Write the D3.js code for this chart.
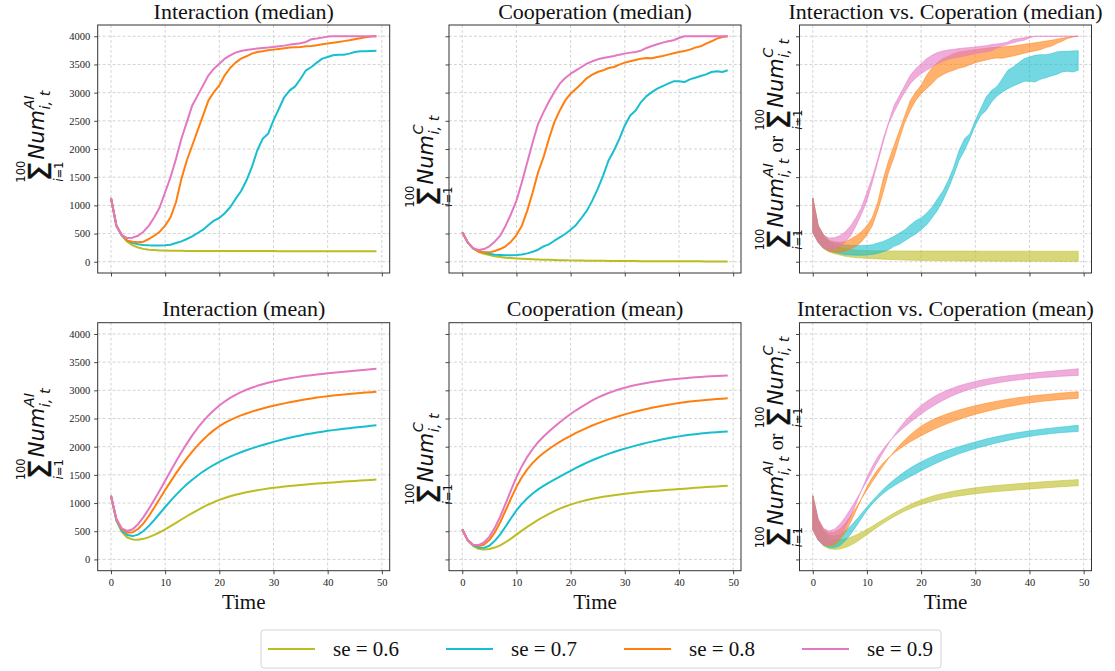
<!DOCTYPE html>
<html><head><meta charset="utf-8">
<script src="https://cdn.jsdelivr.net/npm/d3@7"></script>
<style>body{margin:0;background:#fff}svg{display:block}</style>
</head><body>
<svg id="chart" width="1115" height="671"></svg>
<script>
// ---------- data ----------
const timeSteps = [0,1,2,3,4,5,6,7,8,9,10,11,12,13,14,15,16,17,18,19,20,21,22,23,24,25,26,27,28,29,30,31,32,33,34,35,36,37,38,39,40,41,42,43,44,45,46,47,48,49];
const seLabels = ["se = 0.6","se = 0.7","se = 0.8","se = 0.9"];
const seColors = ["#bcbd22","#17becf","#ff7f0e","#e377c2"];
const yTickValues = [0,500,1000,1500,2000,2500,3000,3500,4000];
const xTickValues = [0,10,20,30,40,50];

// Interaction (median)
const interMedian06 = [1130,640,462,355,290,252,228,214,206,200,197,195,194,193,192,192,191,191,191,190,190,190,190,190,189,189,189,189,189,189,189,188,188,188,188,188,188,188,188,188,187,187,187,187,187,187,187,187,187,187];
const interMedian07 = [1130,640,470,375,330,310,298,292,290,290,292,302,332,361,403,450,510,569,652,729,776,860,966,1114,1250,1440,1677,1973,2181,2270,2507,2714,2922,3040,3111,3247,3396,3455,3532,3603,3633,3662,3674,3674,3692,3722,3733,3733,3740,3745];
const interMedian08 = [1130,640,480,373,355,344,355,403,462,533,640,788,1055,1470,1796,2062,2329,2596,2862,3010,3129,3307,3437,3532,3603,3645,3692,3722,3733,3751,3763,3775,3787,3799,3804,3810,3822,3828,3840,3858,3870,3885,3899,3914,3929,3947,3965,3982,3994,4000];
const interMedian09 = [1130,640,470,420,427,462,533,640,788,966,1233,1500,1825,2181,2477,2773,2951,3129,3307,3425,3514,3603,3662,3710,3740,3757,3769,3781,3793,3800,3810,3822,3834,3852,3864,3876,3899,3947,3959,3976,3994,4000,4000,4000,4000,4000,4000,4000,4000,4000];

// Cooperation (median)
const coopMedian06 = [521,344,237,178,142,119,95,83,71,65,59,55,50,46,41,36,33,30,27,25,24,22,20,19,18,17,16,15,14,13,12,11,11,10,10,9,9,9,8,8,8,7,7,7,7,6,6,6,6,6];
const coopMedian07 = [521,344,237,196,166,142,124,119,113,113,119,130,148,178,213,273,308,373,433,492,569,652,776,907,1084,1292,1529,1796,1973,2181,2418,2596,2684,2833,2939,3010,3070,3117,3159,3200,3200,3188,3236,3265,3295,3324,3366,3378,3366,3396];
const coopMedian08 = [521,344,237,178,166,166,190,225,273,356,474,640,907,1233,1588,1855,2181,2477,2684,2862,2981,3070,3159,3259,3319,3366,3396,3437,3455,3496,3532,3556,3579,3603,3615,3609,3633,3650,3674,3698,3722,3739,3763,3799,3822,3870,3911,3959,3988,4000];
const coopMedian09 = [521,344,240,207,225,273,356,462,640,847,1084,1410,1766,2121,2447,2655,2844,3010,3159,3259,3336,3396,3455,3514,3556,3591,3615,3633,3650,3674,3692,3710,3722,3745,3793,3828,3858,3887,3911,3929,3970,4000,4000,4000,4000,4000,4000,4000,4000,4000];

// Interaction (mean)
const interMean06 = [1130,690,490,390,355,350,365,395,435,482,533,590,649,708,766,822,876,927,975,1018,1056,1090,1120,1147,1171,1192,1211,1228,1243,1257,1270,1282,1293,1303,1312,1321,1329,1337,1345,1353,1360,1367,1374,1381,1387,1393,1399,1405,1411,1417];
const interMean07 = [1130,700,510,432,414,440,505,595,700,815,930,1040,1145,1243,1333,1415,1490,1559,1622,1679,1731,1779,1823,1864,1902,1937,1970,2001,2030,2058,2085,2111,2135,2158,2180,2200,2219,2236,2252,2267,2281,2294,2306,2318,2329,2340,2350,2360,2370,2379];
const interMean08 = [1130,710,535,475,480,540,640,770,920,1075,1231,1381,1526,1664,1794,1914,2024,2124,2214,2294,2364,2422,2472,2516,2555,2590,2622,2651,2678,2703,2726,2748,2769,2789,2808,2826,2842,2857,2871,2884,2896,2907,2917,2926,2935,2944,2952,2960,2968,2976];
const interMean09 = [1130,720,550,505,535,625,750,900,1060,1225,1395,1567,1737,1900,2055,2200,2332,2450,2555,2648,2730,2802,2865,2920,2968,3010,3047,3080,3109,3135,3158,3179,3198,3215,3230,3244,3257,3269,3280,3291,3302,3311,3320,3329,3338,3347,3356,3365,3374,3383];

// Cooperation (mean)
const coopMean06 = [530,340,240,189,178,185,210,250,305,370,440,510,577,640,700,757,810,858,901,939,973,1003,1030,1054,1075,1094,1111,1126,1140,1153,1165,1176,1186,1195,1204,1212,1220,1228,1235,1242,1249,1256,1263,1270,1277,1284,1290,1296,1302,1308];
const coopMean07 = [530,343,250,213,205,243,330,445,585,730,870,985,1085,1170,1243,1306,1364,1418,1470,1521,1573,1623,1671,1717,1760,1800,1838,1873,1906,1937,1966,1993,2019,2044,2068,2090,2111,2131,2150,2167,2183,2197,2210,2222,2233,2243,2251,2258,2264,2269];
const coopMean08 = [530,345,258,237,262,343,478,658,868,1083,1288,1458,1598,1713,1808,1888,1960,2026,2086,2142,2194,2244,2291,2335,2376,2414,2450,2484,2516,2546,2574,2600,2624,2647,2669,2690,2709,2727,2744,2760,2775,2788,2800,2811,2821,2830,2838,2845,2852,2858];
const coopMean09 = [530,345,262,255,300,400,560,760,990,1230,1460,1655,1820,1960,2080,2180,2270,2355,2435,2510,2580,2646,2708,2766,2820,2870,2913,2952,2987,3018,3046,3071,3093,3113,3131,3147,3161,3174,3186,3197,3207,3216,3224,3231,3238,3244,3250,3255,3260,3265];

const interMedian = [interMedian06, interMedian07, interMedian08, interMedian09];
const coopMedian = [coopMedian06, coopMedian07, coopMedian08, coopMedian09];
const interMean = [interMean06, interMean07, interMean08, interMean09];
const coopMean = [coopMean06, coopMean07, coopMean08, coopMean09];

// ---------- layout ----------
const svg = d3.select("#chart");
const SERIF = "'Liberation Serif','Times New Roman',serif";
const MATH = "'DejaVu Sans',sans-serif";
const colLeft = [97.7, 449, 799.5];
const rowTop = [25, 322.7];
const PW = 292, PH = 248;

const panels = [
  {r:0,c:0,title:"Interaction (median)", kind:"line", a:interMedian, label:"AI"},
  {r:0,c:1,title:"Cooperation (median)", kind:"line", a:coopMedian, label:"C"},
  {r:0,c:2,title:"Interaction vs. Coperation (median)", kind:"band", a:interMedian, b:coopMedian, label:"both"},
  {r:1,c:0,title:"Interaction (mean)", kind:"line", a:interMean, label:"AI"},
  {r:1,c:1,title:"Cooperation (mean)", kind:"line", a:coopMean, label:"C"},
  {r:1,c:2,title:"Interaction vs. Coperation (mean)", kind:"band", a:interMean, b:coopMean, label:"both"}
];

function mathLabel(parent, segs, bx, cy) {
  const outer = parent.append("g");
  const g = outer.append("g").attr("fill", "#111");
  let x = 0;
  segs.forEach(s => {
    if (s.word) {
      x += 6;
      const t = g.append("text").attr("x", x).attr("y", 0)
        .attr("font-family", SERIF).attr("font-size", 20).text(s.word);
      x += t.node().getComputedTextLength() + 6;
    } else {
      const sig = g.append("text").attr("x", x).attr("y", 6.5)
        .attr("font-family", MATH).attr("font-size", 32).attr("stroke", "#111").attr("stroke-width", 0.4)
        .text("\u03A3");
      const sw = sig.node().getComputedTextLength();
      const mid = x + sw / 2;
      g.append("text").attr("x", mid).attr("y", -19.5).attr("text-anchor", "middle")
        .attr("font-family", MATH).attr("font-size", 11.5).text("100");
      const lo = g.append("text").attr("x", mid).attr("y", 18.5).attr("text-anchor", "middle")
        .attr("font-family", MATH).attr("font-size", 11.5);
      lo.append("tspan").attr("font-style", "italic").text("i");
      lo.append("tspan").text("=1");
      x += sw + 2;
      const n = g.append("text").attr("x", x).attr("y", 0).attr("font-family", MATH)
        .attr("font-style", "italic").attr("font-size", 21).text("Num");
      x += n.node().getComputedTextLength() + 0.5;
      const sup = g.append("text").attr("x", x).attr("y", -10).attr("font-family", MATH)
        .attr("font-style", "italic").attr("font-size", 14.5).text(s.sup);
      const sub = g.append("text").attr("x", x).attr("y", 6).attr("font-family", MATH)
        .attr("font-style", "italic").attr("font-size", 14.5).text("i, t");
      x += Math.max(sup.node().getComputedTextLength(), sub.node().getComputedTextLength());
    }
  });
  const bb = g.node().getBBox();
  outer.attr("transform", `translate(${bx},${cy}) rotate(-90) translate(${-(bb.x + bb.width / 2)},0)`);
}

panels.forEach(p => {
  const left = colLeft[p.c], top = rowTop[p.r], right = left + PW, bottom = top + PH;
  const x = d3.scaleLinear().domain([-2.45, 51.45]).range([left, right]);
  const y = d3.scaleLinear().domain([-200, 4200]).range([bottom, top]);
  const g = svg.append("g");

  // grid
  const grid = g.append("g").attr("stroke", "#c6c6c6").attr("stroke-width", 0.8).attr("stroke-dasharray", "2.8,2.2");
  xTickValues.forEach(v => grid.append("line").attr("x1", x(v)).attr("x2", x(v)).attr("y1", top).attr("y2", bottom));
  yTickValues.forEach(v => grid.append("line").attr("y1", y(v)).attr("y2", y(v)).attr("x1", left).attr("x2", right));

  // marks
  const clip = "clip" + p.r + p.c;
  g.append("clipPath").attr("id", clip).append("rect").attr("x", left).attr("y", top).attr("width", PW).attr("height", PH);
  const marks = g.append("g").attr("clip-path", `url(#${clip})`);
  if (p.kind === "line") {
    const line = d3.line().x((d, i) => x(timeSteps[i])).y(d => y(d));
    p.a.forEach((s, k) => {
      marks.append("path").attr("d", line(s)).attr("fill", "none")
        .attr("stroke", seColors[k]).attr("stroke-width", 2).attr("stroke-linejoin", "round");
    });
  } else {
    const area = d3.area().x((d, i) => x(timeSteps[i])).y0(d => y(d[0])).y1(d => y(d[1]));
    p.a.forEach((s, k) => {
      const pts = s.map((v, i) => [v, p.b[k][i]]);
      marks.append("path").attr("d", area(pts)).attr("fill", seColors[k]).attr("fill-opacity", 0.6)
        .attr("stroke", seColors[k]).attr("stroke-opacity", 0.6).attr("stroke-width", 0.8);
    });
  }

  // axes (ticks)
  const yAxis = d3.axisLeft(y).tickValues(yTickValues).tickSize(3.5).tickPadding(4)
    .tickFormat(p.c === 0 ? d3.format("d") : () => "");
  const xAxis = d3.axisBottom(x).tickValues(xTickValues).tickSize(3.5).tickPadding(4)
    .tickFormat(p.r === 1 ? d3.format("d") : () => "");
  const ya = g.append("g").attr("transform", `translate(${left},0)`).call(yAxis);
  const xa = g.append("g").attr("transform", `translate(0,${bottom})`).call(xAxis);
  [ya, xa].forEach(a => {
    a.select(".domain").remove();
    a.selectAll("line").attr("stroke", "#333").attr("stroke-width", 0.9);
    a.selectAll("text").attr("font-family", SERIF).attr("font-size", 10.5).attr("fill", "#222");
  });

  // frame
  g.append("rect").attr("x", left).attr("y", top).attr("width", PW).attr("height", PH)
    .attr("fill", "none").attr("stroke", "#333").attr("stroke-width", 1);

  // title
  g.append("text").attr("x", (left + right) / 2).attr("y", top - 6.5).attr("text-anchor", "middle")
    .attr("font-family", SERIF).attr("font-size", 22).attr("fill", "#111").text(p.title);

  if (p.r === 1) {
    g.append("text").attr("x", (left + right) / 2).attr("y", bottom + 38).attr("text-anchor", "middle")
      .attr("font-family", SERIF).attr("font-size", 21).attr("fill", "#111").text("Time");
  }

  // y labels
  const cy = (top + bottom) / 2;
  if (p.label === "AI") mathLabel(g, [{sup: "AI"}], 44, cy - 13);
  else if (p.label === "C") mathLabel(g, [{sup: "C"}], 433, cy + 12);
  else mathLabel(g, [{sup: "AI"}, {word: "or"}, {sup: "C"}], 783, cy - 5);
});

// legend
const lg = svg.append("g");
lg.append("rect").attr("x", 261).attr("y", 630).attr("width", 680).attr("height", 38).attr("rx", 3)
  .attr("fill", "#fff").attr("stroke", "#d4d4d4").attr("stroke-width", 1);
seLabels.forEach((lab, i) => {
  const x0 = 268 + i * 178;
  lg.append("line").attr("x1", x0).attr("x2", x0 + 47).attr("y1", 649).attr("y2", 649)
    .attr("stroke", seColors[i]).attr("stroke-width", 2);
  lg.append("text").attr("x", x0 + 65).attr("y", 656).attr("font-family", SERIF).attr("font-size", 21)
    .attr("fill", "#111").text(lab);
});
</script>
</body></html>
